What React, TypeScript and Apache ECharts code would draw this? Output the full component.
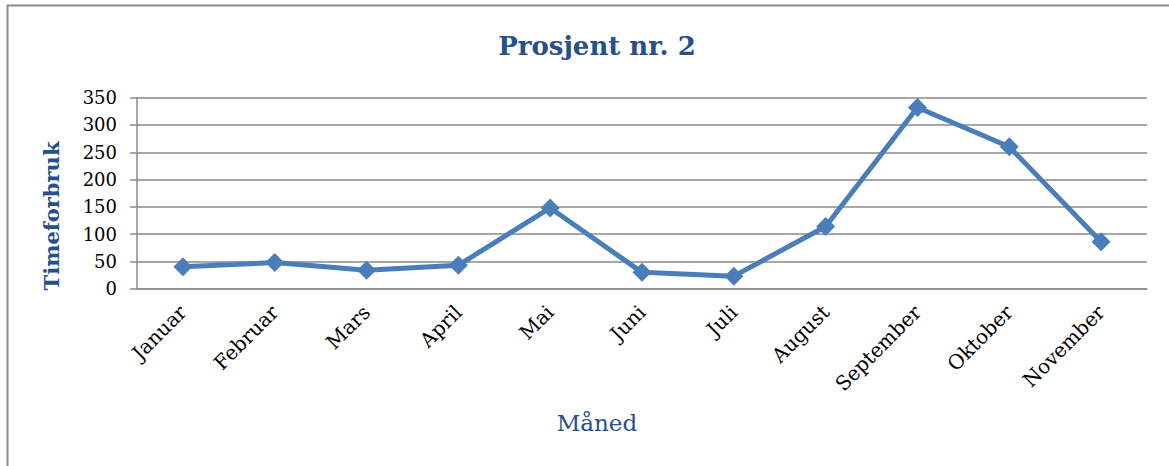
import React, { useEffect, useRef } from "react";
import * as echarts from "echarts";

const months = ["Januar", "Februar", "Mars", "April", "Mai", "Juni", "Juli", "August", "September", "Oktober", "November"];
const hours = [40, 48, 34, 43, 148, 30, 23, 114, 332, 260, 86];
const yTicks = { min: 0, max: 350, interval: 50 };

const SERIF = "'DejaVu Serif', serif";
const BLUE_TEXT = "#25508c";
const GRID_GREY = "#8a8a8a";

export default function App() {
  const ref = useRef<HTMLDivElement>(null);
  useEffect(() => {
    if (!ref.current) return;
    const chart = echarts.init(ref.current, null, { renderer: "svg" });
    chart.setOption({
      animation: false,
      backgroundColor: "#ffffff",
      title: {
        text: "Prosjent nr. 2",
        left: 592,
        top: 28,
        textAlign: "center",
        textStyle: { fontFamily: SERIF, fontSize: 26, fontWeight: "bold", color: BLUE_TEXT },
      },
      grid: { left: 137, right: 22, top: 97.7, bottom: 177.3, containLabel: false },
      xAxis: {
        type: "category",
        data: months,
        boundaryGap: true,
        axisLine: { show: true, lineStyle: { color: GRID_GREY, width: 1.5 } },
        axisTick: { show: false },
        axisLabel: { rotate: 45, margin: 20, fontFamily: SERIF, fontSize: 20, color: "#000" },
        splitLine: { show: false },
      },
      yAxis: {
        type: "value",
        min: yTicks.min,
        max: yTicks.max,
        interval: yTicks.interval,
        axisLine: { show: true, lineStyle: { color: GRID_GREY, width: 1.5 } },
        axisTick: { show: true, length: 7, lineStyle: { color: GRID_GREY, width: 1.5 } },
        axisLabel: { margin: 20, fontFamily: SERIF, fontSize: 18, color: "#000" },
        splitLine: { show: true, lineStyle: { color: GRID_GREY, width: 1.5 } },
      },
      graphic: [
        {
          type: "rect",
          shape: { x: 7.5, y: 5.5, width: 1200, height: 500 },
          style: { fill: "none", stroke: "#8c8c8c", lineWidth: 2 },
          silent: true,
          z: -1,
        },
        {
          type: "text",
          x: 51,
          y: 216,
          rotation: Math.PI / 2,
          style: {
            text: "Timeforbruk",
            fontFamily: SERIF,
            fontSize: 21,
            fontWeight: "bold",
            fill: BLUE_TEXT,
            align: "center",
            verticalAlign: "middle",
          },
        },
        {
          type: "text",
          x: 597,
          y: 423,
          style: {
            text: "Måned",
            fontFamily: SERIF,
            fontSize: 23,
            fill: BLUE_TEXT,
            align: "center",
            verticalAlign: "middle",
          },
        },
      ],
      series: [
        {
          type: "line",
          data: hours,
          symbol: "diamond",
          symbolSize: 19,
          lineStyle: { color: "#4a7ebb", width: 5 },
          itemStyle: { color: "#4a7ebb" },
          label: { show: false },
        },
      ],
    });
    return () => chart.dispose();
  }, []);
  return <div ref={ref} style={{ position: "fixed", left: 0, top: 0, width: 1169, height: 466 }} />;
}
